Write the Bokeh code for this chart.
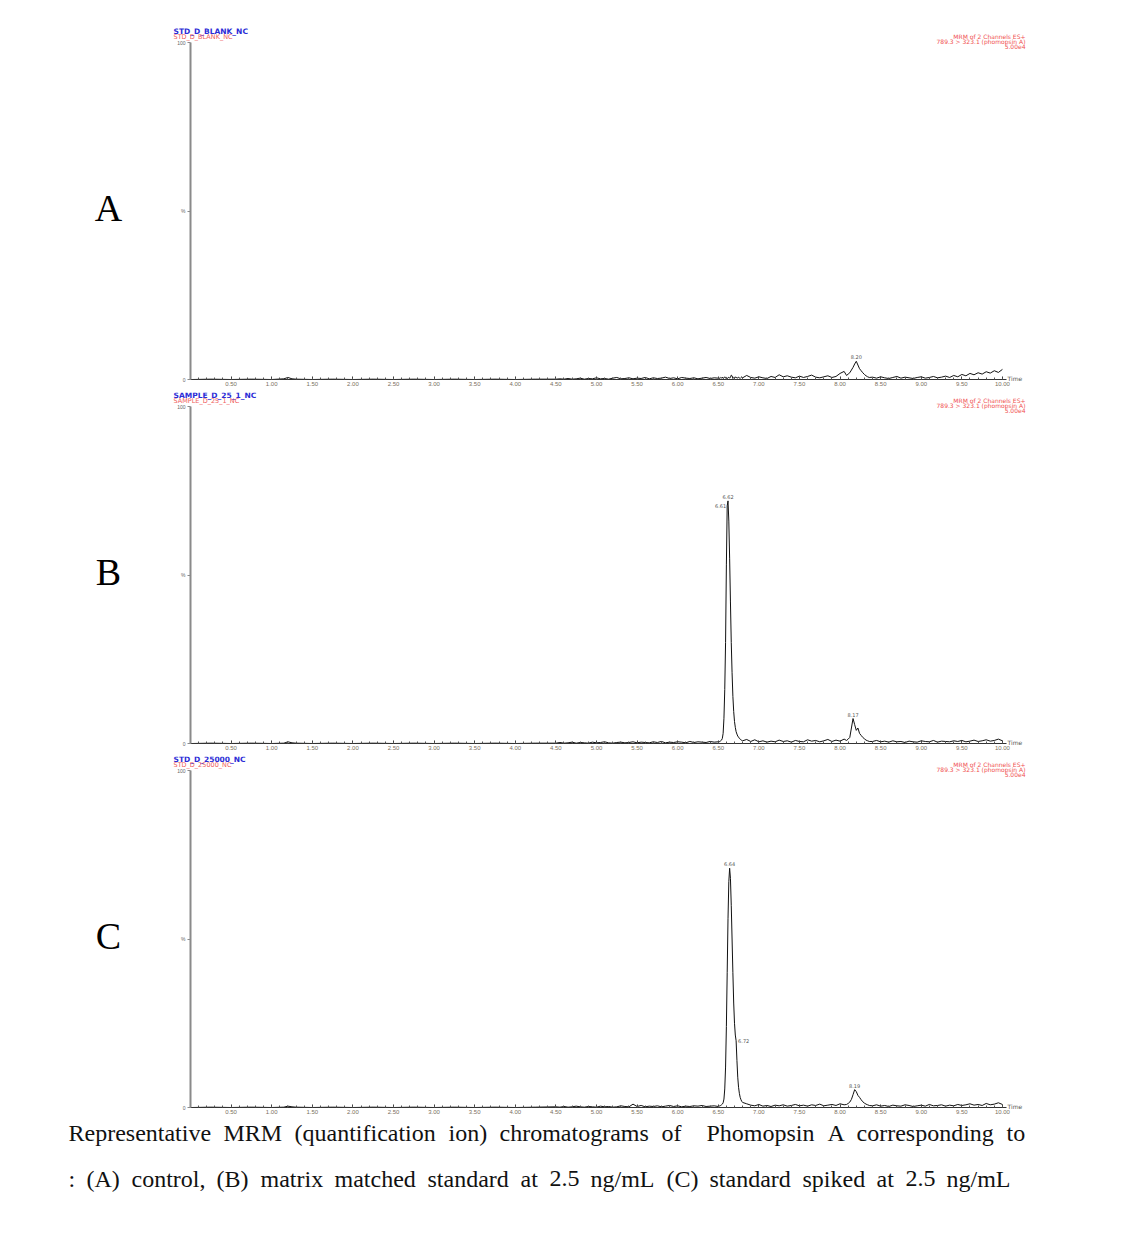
import numpy as np
from bokeh.plotting import figure
from bokeh.models import Range1d, Label, FixedTicker
from bokeh.layouts import column
from bokeh.embed import file_html
from bokeh.resources import INLINE
from bokeh.core.properties import value

# ---------------- data ----------------
time_min = [
    0.02, 0.25, 0.50, 0.75, 1.00, 1.15, 1.20, 1.25, 1.30, 1.50, 1.75, 2.00, 2.25, 2.50, 2.75,
    3.00, 3.25, 3.50, 3.75, 4.00, 4.25,
    4.50, 4.55, 4.60, 4.65, 4.70, 4.75, 4.80, 4.85, 4.90, 4.95, 5.00, 5.05, 5.10, 5.15, 5.20,
    5.25, 5.30, 5.35, 5.40, 5.45, 5.50, 5.55, 5.60, 5.65, 5.70, 5.75, 5.80, 5.85, 5.90, 5.95,
    6.00, 6.05, 6.10, 6.15, 6.20, 6.25, 6.30, 6.35, 6.40, 6.45, 6.50,
    6.51, 6.52, 6.53, 6.54, 6.55, 6.56, 6.57, 6.58, 6.59, 6.60, 6.61, 6.62, 6.63, 6.64, 6.65,
    6.66, 6.67, 6.68, 6.69, 6.70, 6.71, 6.72, 6.73, 6.74, 6.75, 6.76, 6.77, 6.78, 6.79, 6.80,
    6.85, 6.90, 6.95, 7.00, 7.05, 7.10, 7.15, 7.20, 7.25, 7.30, 7.35, 7.40, 7.45, 7.50, 7.55,
    7.60, 7.65, 7.70, 7.75, 7.80, 7.85, 7.90, 7.95, 8.00, 8.05,
    8.08, 8.10, 8.12, 8.14, 8.16, 8.18, 8.20, 8.22, 8.24, 8.26, 8.28, 8.30, 8.32, 8.34, 8.36,
    8.40, 8.45, 8.50, 8.55, 8.60, 8.65, 8.70, 8.75, 8.80, 8.85, 8.90, 8.95, 9.00, 9.05, 9.10,
    9.15, 9.20, 9.25, 9.30, 9.35, 9.40, 9.45, 9.50, 9.55, 9.60, 9.65, 9.70, 9.75, 9.80, 9.85,
    9.90, 9.95, 10.00,
]

# relative intensity (%) — panel A: control (blank)
intensity_A = (
    [0.0, 0.1, 0.0, 0.1, 0.0, 0.2, 0.6, 0.2, 0.1, 0.0, 0.1, 0.0, 0.1, 0.0, 0.1, 0.0, 0.1, 0.0, 0.1, 0.0, 0.1]
    + [0.1, 0.2, 0.1, 0.3, 0.1, 0.2, 0.4, 0.1, 0.3, 0.2, 0.5, 0.2, 0.3, 0.1, 0.4, 0.6, 0.2, 0.3, 0.5, 0.2,
       0.4, 0.3, 0.6, 0.2, 0.5, 0.3, 0.4, 0.7, 0.3, 0.5, 0.2, 0.6, 0.4, 0.3, 0.5, 0.2, 0.4, 0.6, 0.3, 0.5, 0.4]
    + [0.5, 0.3, 0.6, 0.4, 0.7, 0.3, 0.5, 0.8, 0.4, 0.6, 0.3, 0.5, 0.7, 0.4, 0.6, 1.3, 1.1, 0.3, 0.6, 0.4,
       0.8, 0.5, 0.6, 0.4, 0.7, 0.5, 0.3, 0.6, 0.8, 0.5]
    + [1.2, 0.6, 0.4, 0.8, 0.5, 0.3, 0.9, 0.6, 1.4, 0.8, 1.1, 0.7, 0.5, 1.0, 0.6, 0.9, 1.3, 0.7, 0.5, 0.8,
       1.1, 0.6, 0.9, 1.8, 2.4]
    + [1.2, 1.6, 2.0, 2.8, 3.6, 4.6, 5.4, 4.3, 3.2, 2.6, 2.0, 1.5, 1.1, 0.8, 0.6]
    + [0.7, 0.4, 0.8, 0.5, 0.3, 0.6, 0.9, 0.4, 0.7, 0.5, 0.3, 0.6, 0.8, 0.4, 0.6, 0.9, 0.5, 0.7, 1.0, 0.6,
       1.2, 0.8, 1.5, 1.1, 1.8, 1.4, 2.0, 1.6, 2.3, 1.9, 2.6, 2.1, 3.0]
)

# panel B: matrix matched standard 2.5 ng/mL
intensity_B = (
    [0.0, 0.1, 0.0, 0.1, 0.0, 0.1, 0.5, 0.2, 0.1, 0.0, 0.1, 0.0, 0.1, 0.0, 0.1, 0.0, 0.1, 0.0, 0.1, 0.0, 0.1]
    + [0.1, 0.3, 0.1, 0.2, 0.4, 0.1, 0.3, 0.2, 0.1, 0.4, 0.2, 0.3, 0.5, 0.2, 0.1, 0.3, 0.4, 0.2, 0.3, 0.5,
       0.2, 0.4, 0.3, 0.2, 0.5, 0.3, 0.6, 0.2, 0.4, 0.3, 0.5, 0.4, 0.2, 0.6, 0.3, 0.5, 0.4, 0.3, 0.6, 0.4, 0.5]
    + [0.5, 0.6, 0.8, 1.0, 1.5, 3.0, 7.5, 16.0, 30.0, 53.0, 70.5, 72.0, 66.0, 55.0, 42.0, 30.0, 21.0, 14.0, 9.5, 6.5,
       4.8, 3.5, 2.8, 2.2, 1.9, 1.5, 1.3, 1.1, 0.9, 0.8]
    + [1.2, 0.6, 1.1, 0.5, 0.8, 0.4, 0.7, 0.5, 1.0, 0.6, 0.8, 0.4, 0.9, 0.6, 0.5, 1.1, 0.7, 0.9, 0.5, 0.8,
       1.2, 0.6, 1.0, 0.7, 1.3]
    + [0.9, 1.3, 1.8, 4.6, 7.4, 5.6, 3.9, 4.6, 3.0, 2.4, 1.8, 1.4, 1.0, 0.8, 0.6]
    + [0.6, 0.9, 0.5, 0.7, 0.4, 0.8, 0.5, 0.6, 0.3, 0.7, 0.5, 0.4, 0.8, 0.6, 0.5, 0.9, 0.4, 0.7, 0.6, 0.5,
       0.8, 0.6, 0.9, 0.5, 0.7, 1.0, 0.6, 0.8, 1.1, 0.7, 0.9, 1.3, 0.8]
)

# panel C: standard spiked at 2.5 ng/mL
intensity_C = (
    [0.0, 0.1, 0.0, 0.1, 0.0, 0.1, 0.4, 0.2, 0.1, 0.0, 0.1, 0.0, 0.1, 0.0, 0.1, 0.0, 0.1, 0.0, 0.1, 0.0, 0.1]
    + [0.2, 0.1, 0.3, 0.1, 0.2, 0.4, 0.2, 0.1, 0.3, 0.2, 0.1, 0.4, 0.2, 0.3, 0.1, 0.2, 0.5, 0.3, 0.2, 1.0,
       0.3, 0.6, 0.2, 0.4, 0.3, 0.5, 0.2, 0.4, 0.6, 0.3, 0.5, 0.2, 0.4, 0.3, 0.5, 0.4, 0.6, 0.3, 0.4, 0.5, 0.3]
    + [0.4, 0.5, 0.6, 0.8, 1.0, 1.4, 2.5, 5.5, 12.0, 24.0, 40.0, 56.0, 67.0, 71.0, 68.0, 60.0, 50.0, 40.0, 31.0, 25.0,
       21.5, 19.8, 14.0, 9.0, 6.0, 4.2, 3.0, 2.3, 1.8, 1.5]
    + [1.1, 0.7, 0.5, 0.9, 0.4, 0.6, 0.3, 0.7, 0.5, 0.8, 0.4, 0.6, 0.9, 0.5, 0.7, 0.4, 0.8, 0.6, 1.0, 0.5,
       0.7, 0.9, 0.6, 1.1, 0.8]
    + [0.9, 1.2, 1.6, 2.4, 3.8, 5.3, 4.7, 3.6, 3.0, 2.3, 1.7, 1.3, 1.0, 0.8, 0.6]
    + [0.5, 0.8, 0.4, 0.6, 0.3, 0.7, 0.5, 0.4, 0.8, 0.6, 0.3, 0.5, 0.7, 0.4, 0.9, 0.5, 0.6, 0.8, 0.4, 0.7,
       0.5, 0.9, 0.6, 0.8, 1.1, 0.7, 0.9, 0.6, 1.2, 0.8, 1.0, 1.4, 0.9]
)

sample_names = ["STD_D_BLANK_NC", "SAMPLE_D_25_1_NC", "STD_D_25000_NC"]
panel_letters = ["A", "B", "C"]
peak_labels = [["8.20"], ["6.62", "6.61", "8.17"], ["6.64", "6.72", "8.19"]]
channel_text = ["MRM of 2 Channels ES+", "789.3 > 323.1 (phomopsin A)", "5.00e4"]

x_ticks = [0.5, 1.0, 1.5, 2.0, 2.5, 3.0, 3.5, 4.0, 4.5, 5.0, 5.5, 6.0, 6.5, 7.0, 7.5, 8.0, 8.5, 9.0, 9.5, 10.0]
x_tick_labels = ["0.50", "1.00", "1.50", "2.00", "2.50", "3.00", "3.50", "4.00", "4.50", "5.00",
                 "5.50", "6.00", "6.50", "7.00", "7.50", "8.00", "8.50", "9.00", "9.50", "10.00"]
x_minor = [round(0.1 * i, 1) for i in range(0, 101)]
y_ticks = [0, 50, 100]
y_tick_labels = ["0", "%", "100"]

caption_lines = [
    ["Representative", "MRM", "(quantification", "ion)", "chromatograms", "of", "Phomopsin", "A",
     "corresponding", "to"],
    [":", "(A)", "control,", "(B)", "matrix", "matched", "standard", "at", "2.5", "ng/mL", "(C)",
     "standard", "spiked", "at", "2.5", "ng/mL"],
]
caption_word_x = [
    [68, 223, 294, 448, 499, 661, 706, 827, 856, 1006],
    [68, 86, 131, 216, 260, 334, 427, 520, 549, 590, 666, 709, 802, 876, 905, 946],
]

series = [intensity_A, intensity_B, intensity_C]
for s in series:
    assert len(s) == len(time_min), len(s)

# ---------------- layout (pixel geometry) ----------------
W = 1140
AX_LEFT = 190            # pixel of t = 0
X_END = 10.05            # end of time axis
PX_PER_MIN = 816 / X_END
PX_PER_PCT = 3.37
panel_heights = [392, 364, 364]
panel_top = [42, 14, 14]  # pixel of 100 % inside each panel figure


def make_panel(i):
    H = panel_heights[i]
    top = panel_top[i]
    bottom = H - top - 100 * PX_PER_PCT
    p = figure(width=W, height=H,
               x_range=Range1d(-AX_LEFT / PX_PER_MIN, (W - AX_LEFT) / PX_PER_MIN),
               y_range=Range1d(-bottom / PX_PER_PCT, 100 + top / PX_PER_PCT),
               output_backend="svg", toolbar_location=None, min_border=0)
    p.title.visible = False
    p.outline_line_color = None
    p.grid.visible = False
    p.background_fill_color = "white"
    p.border_fill_color = "white"

    p.line(time_min, series[i], line_color="#111111", line_width=1)

    xa = p.xaxis[0]
    xa.fixed_location = 0
    xa.bounds = (0, X_END)
    xa.ticker = FixedTicker(ticks=x_ticks, minor_ticks=x_minor)
    xa.major_label_overrides = {t: l for t, l in zip(x_ticks, x_tick_labels)}
    xa.major_label_text_font_size = "6px"
    xa.major_label_text_color = "#7a6f60"
    xa.major_label_standoff = 2
    xa.major_tick_in = 3
    xa.major_tick_out = 0
    xa.minor_tick_in = 2
    xa.minor_tick_out = 0
    xa.axis_line_color = "#333333"
    xa.major_tick_line_color = "#333333"
    xa.minor_tick_line_color = "#555555"

    ya = p.yaxis[0]
    ya.fixed_location = 0
    ya.bounds = (0, 100)
    ya.ticker = FixedTicker(ticks=y_ticks)
    ya.major_label_overrides = {t: l for t, l in zip(y_ticks, y_tick_labels)}
    ya.major_label_text_font_size = "5px"
    ya.major_label_text_color = "#666666"
    ya.major_label_standoff = 2
    ya.major_tick_in = 0
    ya.major_tick_out = 3
    ya.minor_tick_line_color = None
    ya.axis_line_color = "#8a8a8a"
    ya.axis_line_width = 2
    ya.major_tick_line_color = "#8a8a8a"

    lx = -17 / PX_PER_MIN
    # sample name headers
    p.add_layout(Label(x=lx, y=100 + 11 / PX_PER_PCT, text=sample_names[i], text_font_size="7.5px",
                       text_font_style="bold", text_color="#2b2bd6", text_baseline="middle",
                       text_font="DejaVu Sans"))
    p.add_layout(Label(x=lx, y=100 + 5.5 / PX_PER_PCT, text=sample_names[i], text_font_size="6.5px",
                       text_color="#f06060", text_baseline="middle", text_font="DejaVu Sans"))
    # channel info (right)
    for k, txt in enumerate(channel_text):
        p.add_layout(Label(x=X_END, x_offset=19, y=100 + (6 - 5 * k) / PX_PER_PCT, text=txt,
                           text_font_size="6px", text_color="#f05050", text_align="right",
                           text_baseline="middle", text_font="DejaVu Sans"))
    # time axis name
    p.add_layout(Label(x=X_END, x_offset=1, y=0, y_offset=1, text="Time", text_font_size="6px",
                       text_color="#555555", text_baseline="middle", text_font="DejaVu Sans"))
    # panel letter
    p.add_layout(Label(x=-82 / PX_PER_MIN, y=51, text=panel_letters[i], text_font_size="38px",
                       text_font="Liberation Serif", text_align="center", text_baseline="middle",
                       text_color="#000000"))
    # peak retention time labels
    tarr = np.array(time_min)
    for lbl in peak_labels[i]:
        idx = int(np.argmin(np.abs(tarr - float(lbl))))
        px, py = time_min[idx], series[i][idx]
        if lbl == "6.61":
            kw = dict(x_offset=-1, text_align="right", text_baseline="middle")
        elif lbl == "6.72":
            kw = dict(x_offset=2, text_align="left", text_baseline="middle")
        else:
            kw = dict(y_offset=2, text_align="center", text_baseline="bottom")
        p.add_layout(Label(x=px, y=py, text=lbl, text_font_size="5px", text_color="#555555",
                           text_font="DejaVu Sans", **kw))
    return p


panels = [make_panel(i) for i in range(3)]

cap_h = 1244 - sum(panel_heights)
cap = figure(width=W, height=cap_h, x_range=Range1d(0, W), y_range=Range1d(cap_h, 0),
             output_backend="svg", toolbar_location=None, x_axis_type=None, y_axis_type=None,
             min_border=0)
cap.title.visible = False
cap.outline_line_color = None
cap.grid.visible = False
line_y = [12, 58]
for li, words in enumerate(caption_lines):
    cap.text(x=caption_word_x[li], y=[line_y[li]] * len(words), text=words,
             text_font=value("Liberation Serif"), text_font_size="24px",
             text_baseline="middle", text_align="left", text_color="#111111")

layout = column(*panels, cap, spacing=0)
open("out.html", "w").write(file_html(layout, INLINE))
